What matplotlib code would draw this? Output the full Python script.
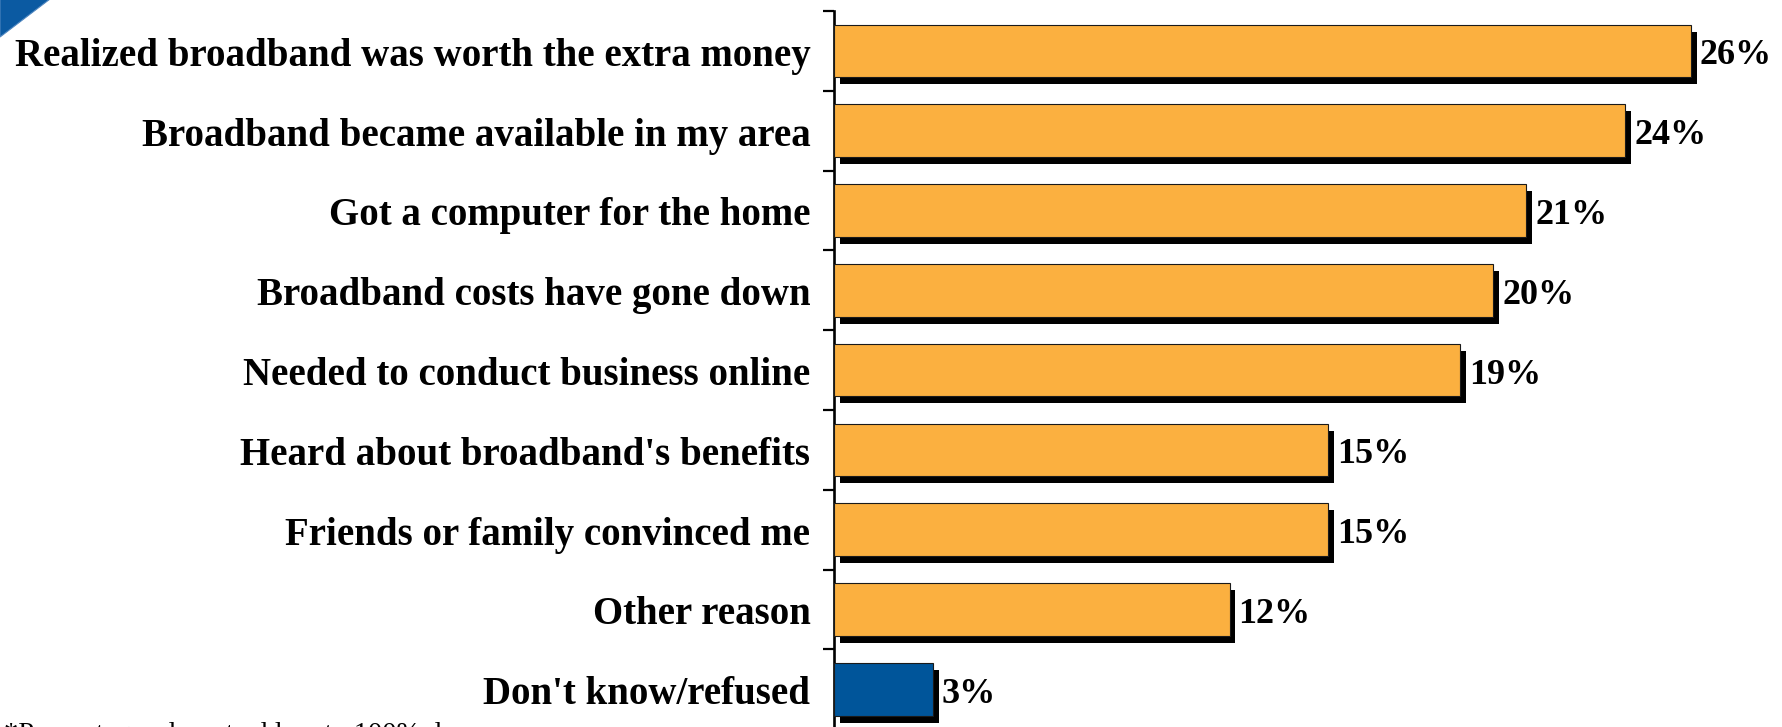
import matplotlib
matplotlib.use("Agg")
import matplotlib.pyplot as plt
from matplotlib import patheffects
from matplotlib.patches import Polygon

# Survey responses: reasons for getting broadband (percent of respondents)
reasons = [
    "Realized broadband was worth the extra money",
    "Broadband became available in my area",
    "Got a computer for the home",
    "Broadband costs have gone down",
    "Needed to conduct business online",
    "Heard about broadband's benefits",
    "Friends or family convinced me",
    "Other reason",
    "Don't know/refused",
]
percents = [26, 24, 21, 20, 19, 15, 15, 12, 3]
bar_colors = ["#FBB040"] * 8 + ["#00559A"]
footnote = "*Percentages do not add up to 100% due"

W, H, DPI = 1783, 728, 100
fig = plt.figure(figsize=(W / DPI, (H - 0.01) / DPI), dpi=DPI)

# Axes placement in pixels
ax_left, ax_top = 834, 12
px_per_unit_x = 32.96
px_per_row = 79.8
xmax = (W - ax_left) / px_per_unit_x
ax_h = px_per_row * len(reasons)
ax = fig.add_axes([ax_left / W, (H - ax_top - ax_h) / H, (W - ax_left) / W, ax_h / H])

serif = ["Liberation Serif", "DejaVu Serif"]

ypos = list(range(len(reasons)))
shadow = [patheffects.SimplePatchShadow(offset=(4.3, -5.0), shadow_rgbFace="black", alpha=1.0),
          patheffects.Normal()]
bars = ax.barh(ypos, percents, height=0.66, color=bar_colors,
               edgecolor="#1a1a1a", linewidth=0.8, zorder=3)
for b in bars:
    b.set_path_effects(shadow)

for y, v in zip(ypos, percents):
    ax.annotate(f"{v}%", xy=(v, y), xytext=(6.5, 0), textcoords="offset points",
                ha="left", va="center_baseline", fontsize=26, fontweight="bold",
                family=serif, color="black")

ax.set_xlim(0, xmax)
ax.set_ylim(len(reasons) - 0.5, -0.5)

# Category boundaries get tick marks; labels sit at bar centres
ax.set_yticks([i - 0.5 for i in range(len(reasons) + 1)])
ax.set_yticklabels([])
ax.set_yticks(ypos, minor=True)
ax.set_yticklabels(reasons, minor=True, fontsize=28, fontweight="bold", family=serif,
                   va="center_baseline")
ax.tick_params(axis="y", which="major", length=8, width=1.6, color="black", direction="out")
ax.tick_params(axis="y", which="minor", length=0, pad=17)
ax.set_xticks([])

for s in ["top", "right", "bottom"]:
    ax.spines[s].set_visible(False)
ax.spines["left"].set_linewidth(1.9)
ax.spines["left"].set_color("black")

# Corner accent
fig.patches.append(Polygon([[0, 1], [50 / W, 1], [0, 1 - 38 / H]], closed=True,
                           transform=fig.transFigure, facecolor="#0B5AA2",
                           edgecolor="#4F86BF", linewidth=0.8))

fig.text(4 / W, (H - 741) / H, footnote, ha="left", va="baseline",
         fontsize=20.5, family=serif, color="black")

fig.savefig("out.png", dpi=DPI, facecolor="white")
